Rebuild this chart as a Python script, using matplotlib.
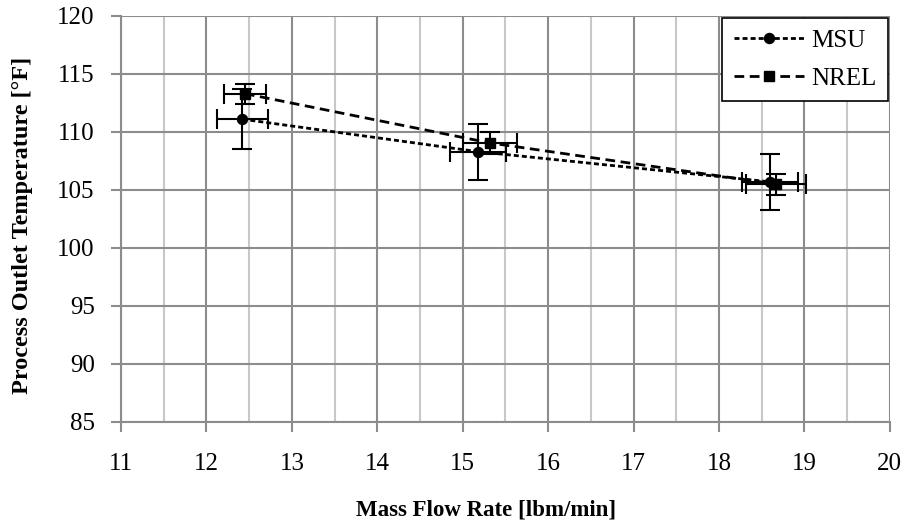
import numpy as np
import matplotlib
matplotlib.use('Agg')
from matplotlib import pyplot as plt
from matplotlib.ticker import MultipleLocator
from matplotlib.lines import Line2D

plt.rcParams['font.family'] = ['Liberation Serif', 'DejaVu Serif']

# Data
msu_flow = [12.42, 15.18, 18.60]
msu_temp = [111.1, 108.3, 105.7]
msu_xerr = [0.30, 0.33, 0.33]
msu_yerr = [2.6, 2.4, 2.4]

nrel_flow = [12.45, 15.32, 18.67]
nrel_temp = [113.3, 109.05, 105.5]
nrel_xerr = [0.25, 0.32, 0.35]
nrel_yerr = [0.86, 0.95, 0.9]

msu_ls = (0, (1.8, 1.1))
nrel_ls = (0, (3.5, 2.0))

fig = plt.figure(figsize=[9.08, 5.31], dpi=100)
ax = fig.add_axes([0.1333, 0.2053, 0.8467, 0.7647])

ax.errorbar(msu_flow, msu_temp, xerr=msu_xerr, yerr=msu_yerr, color='black',
            linestyle=msu_ls, linewidth=2, marker='o', markersize=7.2,
            ecolor='black', elinewidth=1.5, capsize=7, capthick=1.5, zorder=3)
ax.errorbar(nrel_flow, nrel_temp, xerr=nrel_xerr, yerr=nrel_yerr, color='black',
            linestyle=nrel_ls, linewidth=2, marker='s', markersize=7,
            ecolor='black', elinewidth=1.5, capsize=7, capthick=1.5, zorder=3)

ax.set_xlim(11, 20)
ax.set_ylim(85, 120)
ax.xaxis.set_major_locator(MultipleLocator(1))
ax.xaxis.set_minor_locator(MultipleLocator(0.5))
ax.yaxis.set_major_locator(MultipleLocator(5))
ax.grid(which='major', color='#8c8c8c', linewidth=1.5, zorder=0)
ax.grid(which='minor', axis='x', color='#c8c8c8', linewidth=1.5, zorder=0)
ax.set_axisbelow(True)

for s in ['top', 'right']:
    ax.spines[s].set_visible(False)
for s in ['left', 'bottom']:
    ax.spines[s].set_color('#8c8c8c')
    ax.spines[s].set_linewidth(1.5)
ax.tick_params(which='major', direction='out', length=7, width=1.5, color='#8c8c8c',
               labelsize=18)
ax.tick_params(which='minor', length=0)
ax.tick_params(axis='y', pad=12)
ax.tick_params(axis='x', pad=15)

ax.set_xlabel('Mass Flow Rate [lbm/min]', fontsize=16.5, fontweight='bold')
ax.set_ylabel('Process Outlet Temperature [°F]', fontsize=17.5, fontweight='bold')
ax.xaxis.set_label_coords(0.475, -0.19)
ax.yaxis.set_label_coords(-0.114, 0.485)

handles = [
    Line2D([], [], color='black', linestyle=msu_ls, linewidth=2, marker='o', markersize=7.2),
    Line2D([], [], color='black', linestyle=nrel_ls, linewidth=2, marker='s', markersize=7),
]
leg = ax.legend(handles, ['MSU', 'NREL'], loc='upper right', fontsize=18, frameon=True,
                fancybox=False, edgecolor='black', framealpha=1, borderpad=0.45,
                labelspacing=0.62, handlelength=2.8, handletextpad=0.3,
                borderaxespad=0, bbox_to_anchor=(0.997, 0.995))
leg.get_frame().set_linewidth(1.2)

plt.savefig('out.png', dpi=100)
